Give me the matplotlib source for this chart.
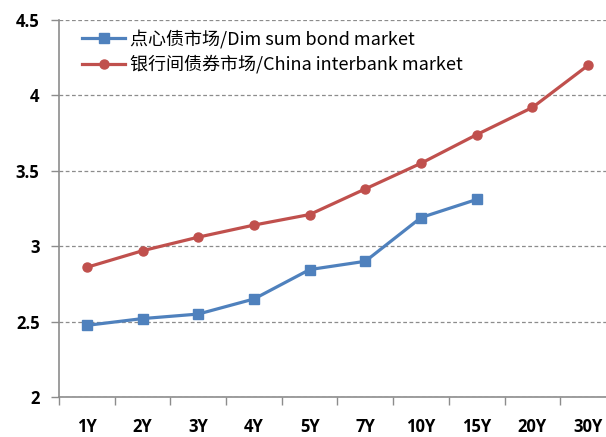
import matplotlib.pyplot as plt
import numpy as np

tenors = ['1Y', '2Y', '3Y', '4Y', '5Y', '7Y', '10Y', '15Y', '20Y', '30Y']
dim_sum = [2.475, 2.52, 2.55, 2.65, 2.845, 2.90, 3.19, 3.31]
interbank = [2.86, 2.97, 3.06, 3.14, 3.21, 3.38, 3.55, 3.74, 3.92, 4.20]

plt.rcParams['font.family'] = ['Noto Sans CJK SC', 'DejaVu Sans']

fig = plt.figure(figsize=(6.06, 4.37), dpi=100)
ax = fig.add_axes([59 / 606, 40 / 437, 557 / 606, 377 / 437])

x = np.arange(len(tenors))
ax.plot(x[:len(dim_sum)], dim_sum, color='#4F81BD', lw=2.3, marker='s', ms=7,
        label='点心债市场/Dim sum bond market')
ax.plot(x, interbank, color='#C0504D', lw=2.3, marker='o', ms=6.5,
        label='银行间债券市场/China interbank market')

ax.set_xlim(-0.5, len(tenors) - 0.5)
ax.set_ylim(2, 4.5)
ax.set_yticks([2, 2.5, 3, 3.5, 4, 4.5])
ax.set_yticklabels(['2', '2.5', '3', '3.5', '4', '4.5'])
ax.yaxis.grid(True, linestyle=(0, (3, 2)), color='#8c8c8c', lw=0.9)
ax.set_axisbelow(True)

ax.set_xticks(x)
ax.set_xticklabels(tenors)
ax.set_xticks(np.arange(-0.5, len(tenors)), minor=True)
ax.tick_params(axis='x', which='major', length=0, pad=15)
ax.tick_params(axis='x', which='minor', length=6, color='#8c8c8c', width=1)
ax.tick_params(axis='y', length=6, color='#8c8c8c', width=1, pad=8)

for lbl in ax.get_xticklabels() + ax.get_yticklabels():
    lbl.set_fontfamily('Open Sans')
    lbl.set_fontweight('bold')
    lbl.set_fontsize(12)

for side in ['top', 'right']:
    ax.spines[side].set_visible(False)
for side in ['left', 'bottom']:
    ax.spines[side].set_color('#8c8c8c')
    ax.spines[side].set_linewidth(1.2)

ax.legend(loc='upper left', bbox_to_anchor=(0.025, 1.0), frameon=False,
          fontsize=13, handlelength=2.4, handletextpad=0.25, labelspacing=0.4,
          borderaxespad=0.1)

fig.savefig('out.png', dpi=100)
